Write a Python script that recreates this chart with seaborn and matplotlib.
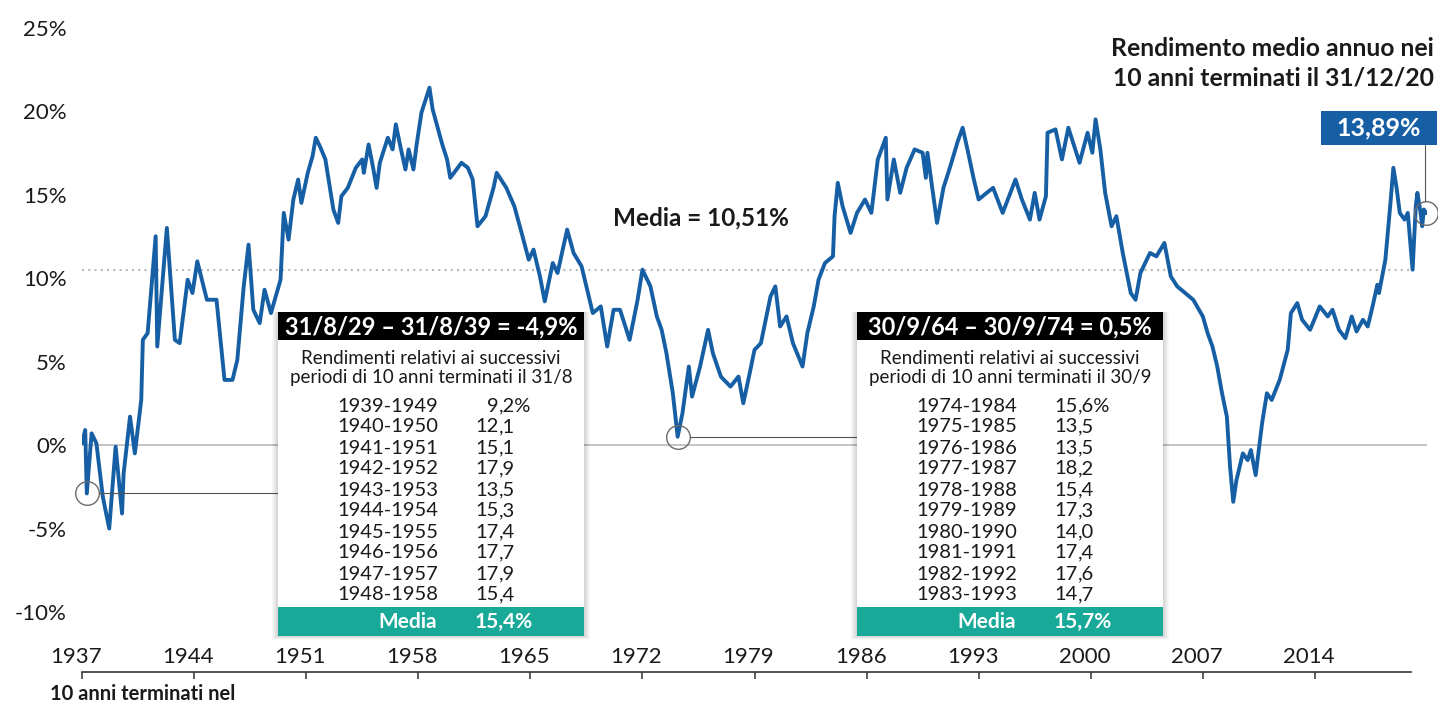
import numpy as np
import pandas as pd
import matplotlib
matplotlib.use("Agg")
import matplotlib.pyplot as plt
from matplotlib.patches import Rectangle
from matplotlib.lines import Line2D
import matplotlib.transforms as mtransforms
import seaborn as sns

# ---------------- data ----------------
anni = [1937.0, 1937.2, 1937.3, 1937.6, 1937.9, 1938.3, 1938.7, 1939.1, 1939.5, 1939.6,
        1940.0, 1940.3, 1940.7, 1940.8, 1941.1, 1941.6, 1941.7, 1942.3, 1942.8, 1943.1,
        1943.6, 1943.9, 1944.2, 1944.8, 1945.4, 1945.9, 1946.4, 1946.7, 1947.1, 1947.4,
        1947.7, 1948.1, 1948.4, 1948.8, 1949.4, 1949.6, 1949.9, 1950.2, 1950.5, 1950.7,
        1951.1, 1951.4, 1951.6, 1951.9, 1952.2, 1952.7, 1953.0, 1953.2, 1953.6, 1954.1,
        1954.5, 1954.6, 1954.9, 1955.2, 1955.4, 1955.6, 1956.1, 1956.4, 1956.6, 1956.9,
        1957.2, 1957.4, 1957.7, 1957.9, 1958.2, 1958.7, 1958.9, 1959.5, 1959.8, 1960.0,
        1960.7, 1961.1, 1961.4, 1961.7, 1962.2, 1962.7, 1962.9, 1963.5, 1964.0, 1964.4,
        1964.9, 1965.2, 1965.6, 1965.9, 1966.4, 1966.7, 1967.3, 1967.7, 1968.2, 1968.6,
        1968.9, 1969.4, 1969.8, 1970.2, 1970.6, 1971.2, 1971.7, 1972.0, 1972.5, 1972.9,
        1973.2, 1973.5, 1973.9, 1974.2, 1974.5, 1974.9, 1975.1, 1975.6, 1976.1, 1976.4,
        1976.9, 1977.5, 1978.0, 1978.3, 1978.7, 1979.0, 1979.4, 1980.0, 1980.3, 1980.6,
        1981.0, 1981.4, 1982.0, 1982.3, 1982.7, 1983.0, 1983.4, 1983.9, 1984.0, 1984.2,
        1984.5, 1985.0, 1985.4, 1985.9, 1986.3, 1986.7, 1987.2, 1987.3, 1987.7, 1988.1,
        1988.5, 1989.0, 1989.5, 1989.7, 1989.8, 1990.4, 1990.8, 1991.2, 1991.7, 1992.0,
        1992.3, 1992.7, 1993.0, 1993.5, 1993.9, 1994.5, 1995.3, 1995.7, 1996.2, 1996.5,
        1996.8, 1997.2, 1997.3, 1997.8, 1998.2, 1998.6, 1999.0, 1999.3, 1999.8, 2000.1,
        2000.3, 2000.6, 2000.9, 2001.3, 2001.6, 2002.0, 2002.5, 2002.8, 2003.1, 2003.7,
        2004.1, 2004.6, 2005.0, 2005.4, 2005.9, 2006.4, 2007.0, 2007.3, 2007.6, 2007.9,
        2008.2, 2008.5, 2008.7, 2008.9, 2009.1, 2009.5, 2009.8, 2010.0, 2010.3, 2010.7,
        2011.0, 2011.3, 2011.8, 2012.3, 2012.5, 2012.9, 2013.2, 2013.7, 2014.3, 2014.8,
        2015.1, 2015.5, 2015.9, 2016.3, 2016.6, 2017.0, 2017.3, 2017.6, 2017.9, 2018.0,
        2018.4, 2018.7, 2018.9, 2019.1, 2019.3, 2019.6, 2019.8, 2020.1, 2020.3, 2020.4,
        2020.6, 2020.7, 2020.8, 2020.95]

rendimenti = [0.1, 0.9, -2.9, 0.7, 0.1, -3.1, -5.0, -0.1, -4.1, -1.7,
              1.7, -0.5, 2.7, 6.3, 6.7, 12.5, 5.9, 13.0, 6.3, 6.1,
              9.9, 9.1, 11.0, 8.7, 8.7, 3.9, 3.9, 5.1, 9.5, 12.0,
              8.1, 7.3, 9.3, 7.9, 9.9, 13.9, 12.3, 14.7, 15.9, 14.5,
              16.3, 17.3, 18.4, 17.8, 17.1, 14.1, 13.3, 14.9, 15.4, 16.6,
              17.1, 16.3, 18.0, 16.5, 15.4, 16.9, 18.4, 17.7, 19.2, 17.8,
              16.5, 17.7, 16.5, 18.0, 19.9, 21.4, 20.1, 18.0, 17.1, 16.0,
              16.9, 16.6, 15.9, 13.1, 13.7, 15.4, 16.3, 15.4, 14.3, 12.9,
              11.1, 11.7, 10.1, 8.6, 10.9, 10.3, 12.9, 11.5, 10.7, 9.1,
              7.9, 8.3, 5.9, 8.1, 8.1, 6.3, 8.7, 10.5, 9.5, 7.7,
              6.9, 5.5, 3.1, 0.5, 1.9, 4.7, 2.9, 4.7, 6.9, 5.5,
              4.1, 3.5, 4.1, 2.5, 4.3, 5.7, 6.1, 8.9, 9.5, 7.1,
              7.7, 6.1, 4.7, 6.7, 8.3, 9.9, 10.9, 11.3, 13.7, 15.7,
              14.3, 12.7, 13.9, 14.7, 13.9, 17.1, 18.4, 14.7, 17.1, 15.1,
              16.6, 17.7, 17.5, 16.0, 17.5, 13.3, 15.4, 16.6, 18.2, 19.0,
              17.7, 15.9, 14.7, 15.1, 15.4, 13.9, 15.9, 14.7, 13.5, 15.1,
              13.5, 14.9, 18.7, 18.9, 17.1, 19.0, 17.8, 16.9, 18.7, 17.5,
              19.5, 17.7, 15.1, 13.1, 13.7, 11.5, 9.1, 8.7, 10.3, 11.5,
              11.3, 12.1, 10.1, 9.5, 9.1, 8.7, 7.7, 6.7, 5.9, 4.7,
              3.1, 1.7, -1.3, -3.4, -2.1, -0.5, -0.9, -0.3, -1.8, 1.3,
              3.1, 2.7, 3.9, 5.7, 7.9, 8.5, 7.5, 6.9, 8.3, 7.7,
              8.1, 6.9, 6.4, 7.7, 6.8, 7.5, 7.1, 8.3, 9.6, 9.1,
              11.1, 14.3, 16.6, 15.4, 13.9, 13.5, 13.9, 10.5, 14.3, 15.1,
              13.9, 13.1, 14.1, 13.89]

media_valore = 10.51
anni_evidenziati = [1937.3, 1974.2, 2020.95]

anni_tick = [1937, 1944, 1951, 1958, 1965, 1972, 1979, 1986, 1993, 2000, 2007, 2014]
valori_tick_y = [-10, -5, 0, 5, 10, 15, 20, 25]

titolo = ["Rendimento medio annuo nei", "10 anni terminati il 31/12/20"]
etichetta_asse_x = "10 anni terminati nel"

box1_titolo = "31/8/29 – 31/8/39 = -4,9%"
box1_sottotitolo = ["Rendimenti relativi ai successivi", "periodi di 10 anni terminati il 31/8"]
box1_periodi = ["1939-1949", "1940-1950", "1941-1951", "1942-1952", "1943-1953",
                "1944-1954", "1945-1955", "1946-1956", "1947-1957", "1948-1958"]
box1_valori = ["9,2%", "12,1", "15,1", "17,9", "13,5", "15,3", "17,4", "17,7", "17,9", "15,4"]
box1_media = "15,4%"

box2_titolo = "30/9/64 – 30/9/74 = 0,5%"
box2_sottotitolo = ["Rendimenti relativi ai successivi", "periodi di 10 anni terminati il 30/9"]
box2_periodi = ["1974-1984", "1975-1985", "1976-1986", "1977-1987", "1978-1988",
                "1979-1989", "1980-1990", "1981-1991", "1982-1992", "1983-1993"]
box2_valori = ["15,6%", "13,5", "13,5", "18,2", "15,4", "17,3", "14,0", "17,4", "17,6", "14,7"]
box2_media = "15,7%"

# ---------------- style ----------------
BLU = "#165fa5"
TEAL = "#18a999"
TESTO = "#1a1a1a"

sns.set_theme(style="white")
plt.rcParams["font.family"] = ["Lato", "DejaVu Sans"]

W, H = 1438, 702
fig = plt.figure(figsize=(W / 100, H / 100), dpi=100)
fig.patch.set_facecolor("white")


def fx(px):
    return px / W


def fy(py):
    return 1 - py / H


ax = fig.add_axes([fx(82), fy(672), fx(1427) - fx(82), fy(19) - fy(672)])
ax.set_facecolor("white")

df = pd.DataFrame({"anno": anni, "rendimento": rendimenti})

ax.set_xlim(1937, 2021)
ax.set_ylim(-13.59, 25.51)

# reference lines
ax.hlines(0, 1937, 2021, color="#c4c4c4", lw=1.4, zorder=1)
ax.hlines(media_valore, 1937, 2020, color="#b8b8b8", lw=1.5, linestyles=(0, (1, 2)), zorder=1)

sns.lineplot(data=df, x="anno", y="rendimento", ax=ax, color=BLU, linewidth=2.8,
             estimator=None, sort=False, zorder=3)
ax.set_xlabel("")
ax.set_ylabel("")

# spines / ticks
for s in ["left", "top", "right"]:
    ax.spines[s].set_visible(False)
ax.spines["bottom"].set_color("#333333")
ax.spines["bottom"].set_linewidth(1.2)
ax.spines["bottom"].set_bounds(1937, 2020)

ax.set_xticks(anni_tick)
ax.set_xticklabels([])
ax.tick_params(axis="x", length=5, width=1.1, color="#333333", direction="out", bottom=True)
ax.set_yticks(valori_tick_y)
ax.set_yticklabels([f"{v}%" for v in valori_tick_y])
ax.tick_params(axis="y", length=0, pad=11, labelsize=16, labelcolor=TESTO)

lab_trans = mtransforms.blended_transform_factory(ax.transData, ax.transAxes) + \
    mtransforms.ScaledTranslation(-6 / 100, 9 / 100, fig.dpi_scale_trans)
for a in anni_tick:
    ax.text(a, 0, str(a), transform=lab_trans, ha="center", va="baseline",
            fontsize=16, color=TESTO)

fig.text(fx(50), fy(700), etichetta_asse_x, ha="left", va="baseline",
         fontsize=14.5, fontweight="bold", color=TESTO)

# highlighted points
R = 12
pts_px = []
for a in anni_evidenziati:
    i = int(np.argmin(np.abs(np.array(anni) - a)))
    ax.plot([anni[i]], [rendimenti[i]], marker="o", ms=17, mfc="none", mec="#6a6a6a",
            mew=1.0, zorder=4, clip_on=False)
    d = ax.transData.transform((anni[i], rendimenti[i]))
    pts_px.append((d[0], H - d[1], rendimenti[i]))


def draw_box(L, titolo_b, sotto, periodi, valori, media):
    Wb = 306
    top, hdr, foot, bot = 312, 340, 607, 636
    for k in range(1, 7):
        fig.patches.append(Rectangle((fx(L - k), fy(bot + k * 0.6)), fx(Wb + 2 * k),
                                     (bot + k * 0.6 - top) / H, transform=fig.transFigure,
                                     facecolor="black", alpha=0.028, lw=0, zorder=5))
    fig.patches.append(Rectangle((fx(L), fy(bot)), fx(Wb), (bot - top) / H,
                                 transform=fig.transFigure, facecolor="white", lw=0, zorder=6))
    fig.patches.append(Rectangle((fx(L), fy(hdr)), fx(Wb), (hdr - top) / H,
                                 transform=fig.transFigure, facecolor="black", lw=0, zorder=7))
    fig.patches.append(Rectangle((fx(L), fy(bot)), fx(Wb), (bot - foot) / H,
                                 transform=fig.transFigure, facecolor=TEAL, lw=0, zorder=7))
    fig.text(fx(L + Wb / 2), fy(327), titolo_b, ha="center", va="center", color="white",
             fontsize=17, fontweight="bold", zorder=8)
    for j, s in enumerate(sotto):
        fig.text(fx(L + Wb / 2), fy(358 + 19 * j), s, ha="center", va="center",
                 color=TESTO, fontsize=13.5, zorder=8)
    for j, (p, v) in enumerate(zip(periodi, valori)):
        yy = 406 + 21 * j
        fig.text(fx(L + 110), fy(yy), p, ha="center", va="center", color=TESTO,
                 fontsize=14.5, zorder=8)
        intero, dec = v.split(",")
        fig.text(fx(L + 221), fy(yy), intero, ha="right", va="center", color=TESTO,
                 fontsize=14.5, zorder=8)
        fig.text(fx(L + 221), fy(yy), "," + dec, ha="left", va="center", color=TESTO,
                 fontsize=14.5, zorder=8)
    fig.text(fx(L + 130), fy(622), "Media", ha="center", va="center", color="white",
             fontsize=15, fontweight="bold", zorder=8)
    fig.text(fx(L + 197), fy(622), media, ha="left", va="center", color="white",
             fontsize=15, fontweight="bold", zorder=8)


draw_box(278, box1_titolo, box1_sottotitolo, box1_periodi, box1_valori, box1_media)
draw_box(857, box2_titolo, box2_sottotitolo, box2_periodi, box2_valori, box2_media)

# connectors
for (px_, py_, _), box_left in zip(pts_px[:2], [278, 857]):
    fig.add_artist(Line2D([fx(px_ + R), fx(box_left)], [fy(py_), fy(py_)],
                          transform=fig.transFigure, color="#555555", lw=0.8, zorder=4))

px_e, py_e, val_e = pts_px[2]
fig.add_artist(Line2D([fx(px_e - 1), fx(px_e - 1)], [fy(py_e - R), fy(145)],
                      transform=fig.transFigure, color="#555555", lw=0.8, zorder=4))
fig.patches.append(Rectangle((fx(1321), fy(145)), fx(116), 34 / H, transform=fig.transFigure,
                             facecolor=BLU, lw=0, zorder=6))
fig.text(fx(1379), fy(128), f"{val_e:.2f}".replace(".", ",") + "%", ha="center", va="center",
         color="white", fontsize=18, fontweight="bold", zorder=8)

# titles
fig.text(fx(1434), fy(49), titolo[0], ha="right", va="center", fontsize=17.8,
         fontweight="bold", color=TESTO)
fig.text(fx(1434), fy(78), titolo[1], ha="right", va="center", fontsize=17.8,
         fontweight="bold", color=TESTO)

fig.text(fx(701), fy(218), "Media = " + f"{media_valore:.2f}".replace(".", ",") + "%",
         ha="center", va="center", fontsize=17.5, fontweight="bold", color=TESTO)

fig.savefig("out.png", dpi=100)
